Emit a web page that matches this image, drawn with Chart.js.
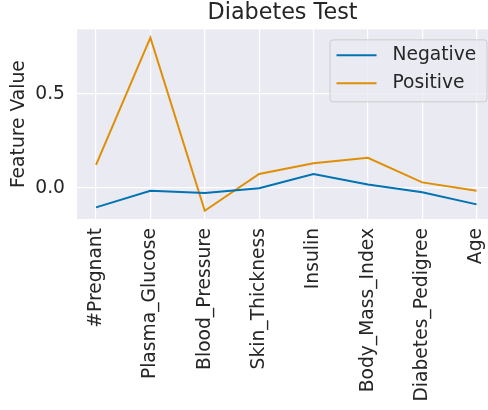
<!DOCTYPE html>
<html>
<head>
<meta charset="utf-8">
<script src="https://cdn.jsdelivr.net/npm/chart.js@4"></script>
<style>
  html, body { margin: 0; padding: 0; background: #fff; overflow: hidden; }
  #wrap { width: 488px; height: 410px; position: relative; }
</style>
</head>
<body>
<div id="wrap"><canvas id="chart" width="488" height="410"></canvas></div>
<script>
// ── Data ──
const features = ['#Pregnant', 'Plasma_Glucose', 'Blood_Pressure', 'Skin_Thickness',
                  'Insulin', 'Body_Mass_Index', 'Diabetes_Pedigree', 'Age'];
const negative = [-0.104, -0.016, -0.028, -0.002, 0.074, 0.018, -0.023, -0.088];
const positive = [0.122, 0.800, -0.122, 0.074, 0.131, 0.160, 0.029, -0.016];
const yTicks = [0, 0.5];

const TEXT = '#262626';
const FONT = 'DejaVu Sans';

const toPoints = arr => arr.map((v, i) => ({ x: i, y: v }));

// ── Plot background (seaborn darkgrid) ──
const bgPlugin = {
    id: 'bg',
    beforeDraw(chart) {
        const { ctx, chartArea: a } = chart;
        ctx.save();
        ctx.fillStyle = '#eaeaf2';
        ctx.fillRect(a.left, a.top, a.right - a.left, a.bottom - a.top);
        ctx.restore();
    }
};

// ── Legend inside plot, upper right ──
const boxLegend = {
    id: 'boxLegend',
    afterDatasetsDraw(chart) {
        const { ctx, chartArea: a } = chart;
        const w = 157, h = 62, x = a.right - w - 1.5, y = a.top + 10;
        ctx.save();
        ctx.beginPath();
        ctx.roundRect(x + 0.5, y + 0.5, w, h, 3);
        ctx.fillStyle = 'rgba(234,234,242,0.8)';
        ctx.fill();
        ctx.strokeStyle = '#cccccc';
        ctx.lineWidth = 1;
        ctx.stroke();
        ctx.font = '18.7px "' + FONT + '"';
        ctx.textBaseline = 'middle';
        chart.data.datasets.forEach((ds, i) => {
            const ry = y + 16 + i * 28;
            ctx.beginPath();
            ctx.moveTo(x + 7, ry);
            ctx.lineTo(x + 47, ry);
            ctx.strokeStyle = ds.borderColor;
            ctx.lineWidth = 2;
            ctx.stroke();
            ctx.fillStyle = TEXT;
            ctx.fillText(ds.label, x + 63, ry);
        });
        ctx.restore();
    }
};

new Chart(document.getElementById('chart'), {
    type: 'line',
    data: {
        datasets: [
            { label: 'Negative', data: toPoints(negative), borderColor: '#0173b2', borderWidth: 2, pointRadius: 0, tension: 0 },
            { label: 'Positive', data: toPoints(positive), borderColor: '#de8f05', borderWidth: 2, pointRadius: 0, tension: 0 }
        ]
    },
    options: {
        responsive: false,
        animation: false,
        layout: { padding: 0 },
        plugins: {
            legend: { display: false },
            tooltip: { enabled: false },
            title: {
                display: true, text: 'Diabetes Test', fullSize: false,
                color: TEXT, font: { family: FONT, size: 22.3, weight: 'normal' },
                padding: { top: 0, bottom: 2.6 }
            }
        },
        scales: {
            x: {
                type: 'linear', min: -0.35, max: 7.21,
                afterBuildTicks: s => { s.ticks = features.map((_, i) => ({ value: i })); },
                afterFit: s => { s.height = 191; s.paddingLeft = 0; s.paddingRight = 0; },
                grid: { color: '#ffffff', lineWidth: 1.2, drawTicks: false },
                border: { display: false },
                ticks: {
                    callback: v => features[v],
                    color: TEXT, font: { family: FONT, size: 18.7 },
                    minRotation: 90, maxRotation: 90, padding: 9, autoSkip: false
                }
            },
            y: {
                min: -0.166, max: 0.844,
                afterBuildTicks: s => { s.ticks = yTicks.map(v => ({ value: v })); },
                afterFit: s => { s.width = 77; s.paddingTop = 0; s.paddingBottom = 0; },
                grid: { color: '#ffffff', lineWidth: 1.2, drawTicks: false },
                border: { display: false },
                ticks: {
                    callback: v => v.toFixed(1),
                    color: TEXT, font: { family: FONT, size: 18.7 }, padding: 12
                },
                title: {
                    display: true, text: 'Feature Value', color: TEXT,
                    font: { family: FONT, size: 18.7 }, padding: { top: 8, bottom: 0 }
                }
            }
        }
    },
    plugins: [bgPlugin, boxLegend]
});
</script>
</body>
</html>
